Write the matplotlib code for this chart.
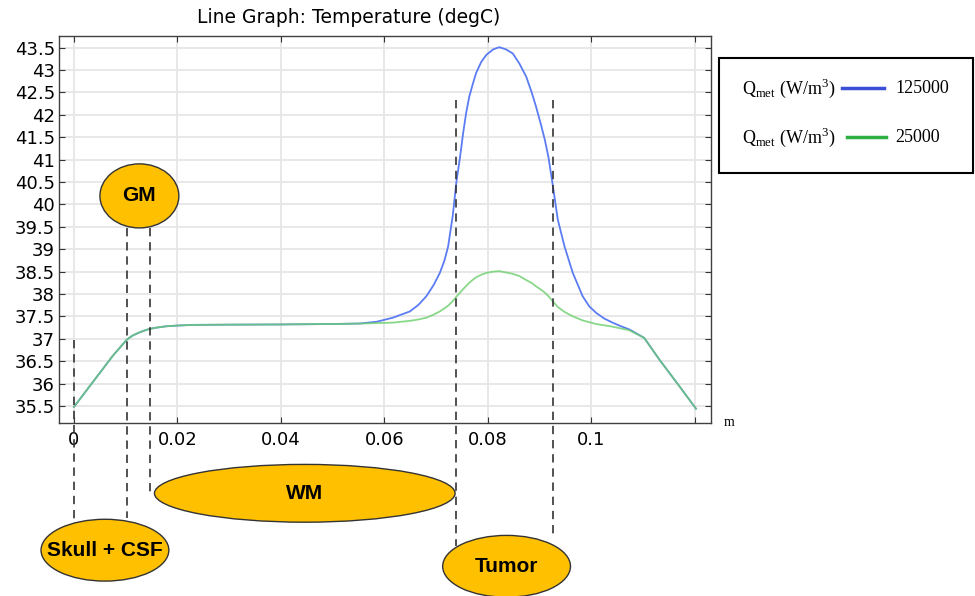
import matplotlib.pyplot as plt
from matplotlib.patches import Ellipse, Rectangle
from matplotlib.lines import Line2D

plt.rcParams['mathtext.fontset'] = 'custom'
plt.rcParams['mathtext.rm'] = 'Liberation Serif'

# Temperature along the line through the head model (m, degC)
x_pos = [0, 0.0025, 0.005, 0.0075, 0.0102, 0.0113, 0.0124, 0.0135, 0.0146, 0.0160,
         0.0179, 0.0200, 0.0230, 0.030, 0.040, 0.050, 0.0552, 0.0585, 0.0616, 0.0649,
         0.0665, 0.0681, 0.0695, 0.0707, 0.0716, 0.0723, 0.0732, 0.0739, 0.0746, 0.0752,
         0.0758, 0.0764, 0.0771, 0.0777, 0.0787, 0.0797, 0.0810, 0.0822, 0.0835, 0.0848,
         0.0861, 0.0874, 0.0884, 0.0893, 0.0902, 0.0910, 0.0917, 0.0925, 0.0935, 0.0948,
         0.0964, 0.0983, 0.0996, 0.1009, 0.1025, 0.1041, 0.1057, 0.1073, 0.1102, 0.1131,
         0.1170, 0.1202]
temp_125000 = [35.48, 35.86, 36.24, 36.62, 36.98, 37.07, 37.13, 37.18, 37.22, 37.25,
               37.28, 37.295, 37.31, 37.315, 37.32, 37.33, 37.34, 37.38, 37.47, 37.61,
               37.75, 37.95, 38.20, 38.47, 38.75, 39.06, 39.75, 40.50, 41.05, 41.59,
               42.05, 42.41, 42.70, 42.93, 43.18, 43.34, 43.46, 43.51, 43.46, 43.37,
               43.14, 42.85, 42.52, 42.18, 41.80, 41.44, 41.05, 40.45, 39.66, 39.06,
               38.47, 37.95, 37.72, 37.58, 37.45, 37.36, 37.28, 37.21, 37.02, 36.54,
               35.94, 35.44]
temp_25000 = [35.48, 35.86, 36.24, 36.62, 36.98, 37.07, 37.13, 37.18, 37.22, 37.25,
              37.28, 37.295, 37.31, 37.315, 37.32, 37.33, 37.34, 37.35, 37.36, 37.40,
              37.43, 37.47, 37.54, 37.61, 37.68, 37.74, 37.84, 37.94, 38.03, 38.11,
              38.18, 38.25, 38.32, 38.37, 38.43, 38.47, 38.50, 38.51, 38.48, 38.45,
              38.40, 38.31, 38.25, 38.17, 38.10, 38.03, 37.95, 37.84, 37.71, 37.60,
              37.50, 37.41, 37.37, 37.33, 37.30, 37.27, 37.23, 37.19, 37.02, 36.54,
              35.94, 35.44]

# tissue boundaries along the line
boundaries = [0.0, 0.0103, 0.0147, 0.0739, 0.0925]
regions = ['Skull + CSF', 'GM', 'WM', 'Tumor']

x_ticks = [0, 0.02, 0.04, 0.06, 0.08, 0.1, 0.12]
x_labels = ['0', '0.02', '0.04', '0.06', '0.08', '0.1', '']
y_ticks = [35.5 + 0.5 * i for i in range(17)]

blue = '#5b7cf3'
green = '#6ccf6c'

fig = plt.figure(figsize=(9.75, 5.96), dpi=100)
ax = fig.add_axes([0.0605, 0.2903, 0.6687, 0.6493])

ax.plot(x_pos, temp_125000, color=blue, lw=1.3, zorder=3)
ax.plot(x_pos, temp_25000, color=green, lw=1.3, alpha=0.8, zorder=4)

ax.set_xlim(-0.0029, 0.1231)
ax.set_ylim(35.12, 43.76)
ax.set_xticks(x_ticks)
ax.set_xticklabels(x_labels)
ax.set_yticks(y_ticks)
ax.set_yticklabels([f'{v:g}' for v in y_ticks])
ax.tick_params(direction='in', length=4, width=0.8, color='#333333',
               top=True, right=True, labelsize=13)
ax.tick_params(axis='x', pad=6)
ax.tick_params(axis='y', pad=3)
ax.grid(True, color='#e6e6e6', lw=1.3, zorder=0)
for s in ax.spines.values():
    s.set_color('#404040')
    s.set_linewidth(1)

fig.text(0.358, 0.970, 'Line Graph: Temperature (degC)', fontsize=13.5,
         ha='center', va='center')
ax.text(1.02, 0.0, 'm', transform=ax.transAxes, family='Liberation Serif',
        fontsize=10, va='center', ha='left')

# dashed boundary markers, running down to the region labels
spans = [(36.98, 32.91), (39.48, 33.0), (39.48, 33.59), (42.33, 32.37), (42.33, 32.57)]
for b, (top, bot) in zip(boundaries, spans):
    ax.plot([b, b], [top, bot], color='#333333', lw=1.2, ls=(0, (5, 3.5)),
            clip_on=False, zorder=5)

# region labels as filled ellipses (centre x, centre y, width, height)
shapes = [(0.00598, 32.28, 0.0247, 1.38),
          (0.01264, 40.19, 0.01525, 1.43),
          (0.0446, 33.55, 0.0581, 1.29),
          (0.0836, 31.92, 0.0247, 1.38)]
for name, (cx, cy, w, h) in zip(regions, shapes):
    ax.add_patch(Ellipse((cx, cy), w, h, facecolor='#ffc000', edgecolor='#333333',
                         lw=1, clip_on=False, zorder=6))
    ax.text(cx, cy, name, ha='center', va='center', fontsize=15, fontweight='bold',
            family='Liberation Sans', zorder=7, clip_on=False)

# legend box
fig.add_artist(Rectangle((0.7374, 0.7097), 0.2605, 0.193, transform=fig.transFigure,
                         facecolor='white', edgecolor='black', lw=1.5))
rows = [(0.8523, 0.8636, 0.9067, '#3a4fd6', '125000'),
        (0.7701, 0.8687, 0.9087, '#2fb043', '25000')]
for y, x0, x1, c, val in rows:
    fig.text(0.761, y, r'Q$_{\mathrm{met}}$ (W/m$^{3}$)', family='Liberation Serif',
             fontsize=13, va='center')
    fig.add_artist(Line2D([x0, x1], [y, y], transform=fig.transFigure, color=c, lw=2.5))
    fig.text(0.918, y, val, family='Liberation Serif', fontsize=13, va='center')

fig.savefig('out.png', dpi=100)
